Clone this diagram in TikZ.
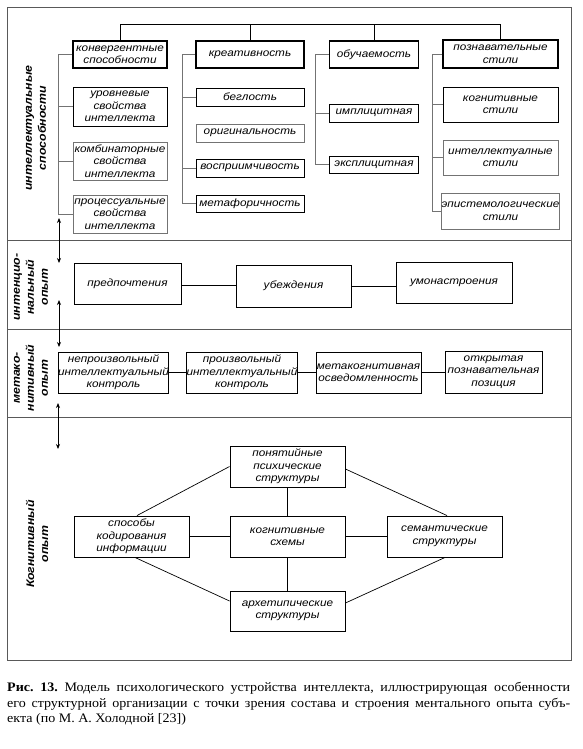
\documentclass[tikz,border=0pt]{standalone}
\usepackage{fontspec}
\setmainfont{Liberation Serif}
\newfontfamily\bxfont[FakeStretch=1.12]{Liberation Sans}
\newfontfamily\capfont[FakeStretch=1.08]{Liberation Serif}
\usetikzlibrary{arrows.meta,calc}
\begin{document}
\begin{tikzpicture}[x=1pt,y=-1pt,
  bx/.style={draw=black, line width=0.9pt, inner sep=0pt, align=center,
    font=\bxfont\itshape\fontsize{10.5}{12.5}\selectfont},
  bxthick/.style={bx, line width=1.5pt},
  bxgray/.style={bx, draw=black!55},
  wh/.style 2 args={minimum width=#1pt, minimum height=#2pt},
  lbl/.style={rotate=90, align=center, inner sep=0pt,
    font=\bxfont\bfseries\itshape\fontsize{11}{14}\selectfont},
  conn/.style={line width=0.7pt, draw=black},
  brk/.style={line width=0.9pt, draw=black!55},
  framel/.style={line width=0.9pt, draw=black!65},
  dbl/.style={line width=0.8pt, {Stealth[length=5pt,width=4pt]}-{Stealth[length=5pt,width=4pt]}},
  captxt/.style={anchor=base west, inner sep=0pt, font=\capfont\frenchspacing\fontsize{13}{15.5}\selectfont}
]
\useasboundingbox (0,0) rectangle (583,749);

% frame and dividers
\draw[framel] (7,7) rectangle (571,660);
\coordinate (dL1) at (7,240); \coordinate (dR1) at (571,240);
\coordinate (dL2) at (7,329); \coordinate (dR2) at (571,329);
\coordinate (dL3) at (7,417); \coordinate (dR3) at (571,417);
\draw[framel] (dL1) -- (dR1);
\draw[framel] (dL2) -- (dR2);
\draw[framel] (dL3) -- (dR3);

% section labels
\node[lbl] (L1) at (36,128) {интеллектуальные\\способности};
\node[lbl] (L2) at (31,287) {интенцио-\\нальный\\опыт};
\node[lbl] (L3) at (31,378) {метако-\\нитивный\\опыт};
\node[lbl] (L4) at (37,544) {Когнитивный\\опыт};

% top section boxes
\node[bxthick, wh={94}{27}] (A1) at (120,54.5) {конвергентные\\способности};
\node[bx, wh={94}{39}] (A2) at (120,106.5) {уровневые\\свойства\\интеллекта};
\node[bxgray, wh={94}{38}] (A3) at (120,161) {комбинаторные\\свойства\\интеллекта};
\node[bxgray, wh={94}{38}] (A4) at (120,214) {процессуальные\\свойства\\интеллекта};

\node[bxthick, wh={108}{27}] (B1) at (250,54.5) {креативность};
\node[bx, wh={108}{18}] (B2) at (250,97) {беглость};
\node[bxgray, wh={108}{18}] (B3) at (250,133) {оригинальность};
\node[bx, wh={108}{18}] (B4) at (250,168) {восприимчивость};
\node[bx, wh={108}{17}] (B5) at (250,203.5) {метафоричность};

\node[bxthick, wh={89}{27}] (C1) at (374,54.5) {обучаемость};
\node[bx, wh={89}{18}] (C2) at (374,113) {имплицитная};
\node[bx, wh={89}{17}] (C3) at (374,164.5) {эксплицитная};

\node[bxthick, wh={115}{28}] (D1) at (500.5,54) {познавательные\\стили};
\node[bx, wh={115}{35}] (D2) at (500.5,104.5) {когнитивные\\стили};
\node[bxgray, wh={115}{35}] (D3) at (500.5,157.5) {интеллектуалные\\стили};
\node[bxgray, wh={115}{36}] (D4) at (500.5,211) {эпистемологические\\стили};

% top connectors
\coordinate (top) at (0,24);
\draw[conn] (A1.north) -- (A1.north |- top) -- (D1.north |- top) -- (D1.north);
\draw[conn] (B1.north) -- (B1.north |- top);
\draw[conn] (C1.north) -- (C1.north |- top);

% brackets
\coordinate (bA) at (58,0);
\draw[brk] (A1.west) -- (A1.west -| bA) -- (A4.west -| bA) -- (A4.west);
\draw[brk] (A2.west) -- (A2.west -| bA);
\draw[brk] (A3.west) -- (A3.west -| bA);

\coordinate (bB) at (182,0);
\draw[brk] (B1.west) -- (B1.west -| bB) -- (B5.west -| bB) -- (B5.west);
\draw[brk] (B2.west) -- (B2.west -| bB);
\draw[brk] (B4.west) -- (B4.west -| bB);

\coordinate (bC) at (315,0);
\draw[brk] (C1.west) -- (C1.west -| bC) -- (C3.west -| bC) -- (C3.west);
\draw[brk] (C2.west) -- (C2.west -| bC);

\coordinate (bD) at (432,0);
\draw[brk] (D1.west) -- (D1.west -| bD) -- (D4.west -| bD) -- (D4.west);
\draw[brk] (D2.west) -- (D2.west -| bD);
\draw[brk] (D3.west) -- (D3.west -| bD);

% intentional experience
\node[bx, wh={107}{41}] (E1) at (127.5,284) {предпочтения};
\node[bx, wh={115}{42}] (E2) at (293.5,286) {убеждения};
\node[bx, wh={116}{41}] (E3) at (454,282.5) {умонастроения};
\coordinate (e12) at (0,285);
\coordinate (e23) at (0,286);
\draw[conn] (E1.east |- e12) -- (E2.west |- e12);
\draw[conn] (E2.east |- e23) -- (E3.west |- e23);

% metacognitive experience
\node[bx, wh={109}{41}] (F1) at (113.5,372.5) {непроизвольный\\интеллектуальный\\контроль};
\node[bx, wh={110}{41}] (F2) at (242,372.5) {произвольный\\интеллектуальный\\контроль};
\node[bx, wh={105}{41}] (F3) at (368.5,372.5) {метакогнитивная\\осведомленность};
\node[bx, wh={97}{42}] (F4) at (493.5,372) {открытая\\познавательная\\позиция};
\draw[conn] (F1.east) -- (F2.west);
\draw[conn] (F2.east) -- (F3.west);
\draw[conn] (F3.east) -- (F4.west |- F3.east);

% cognitive experience
\node[bx, wh={115}{41}] (G1) at (287.5,466.5) {понятийные\\психические\\структуры};
\node[bx, wh={115}{41}] (G2) at (131.5,536.5) {способы\\кодирования\\информации};
\node[bx, wh={115}{41}] (G3) at (287.5,536.5) {когнитивные\\схемы};
\node[bx, wh={115}{41}] (G4) at (444.5,536.5) {семантические\\структуры};
\node[bx, wh={115}{40}] (G5) at (287.5,611) {архетипические\\структуры};
\draw[conn] (G1.south) -- (G3.north);
\draw[conn] (G3.south) -- (G5.north);
\draw[conn] (G2.east) -- (G3.west);
\draw[conn] (G3.east) -- (G4.west);
\draw[conn] ($(G2.north)+(5.5,0)$) -- (G1.west);
\draw[conn] ($(G2.south)+(3.5,0)$) -- ($(G5.west)+(0,-10)$);
\draw[conn] ($(G1.east)+(0,2.5)$) -- ($(G4.north)+(2.5,0)$);
\draw[conn] ($(G4.south)+(0.5,0)$) -- ($(G5.east)+(0,-8)$);

% double arrows between sections
\coordinate (a1s) at (59,218); \coordinate (a1e) at (59,263);
\coordinate (a2s) at (59,300); \coordinate (a2e) at (59,347);
\coordinate (a3s) at (58,403); \coordinate (a3e) at (58,449);
\draw[dbl] (a1s) -- (a1e);
\draw[dbl] (a2s) -- (a2e);
\draw[dbl] (a3s) -- (a3e);

% caption
\node[captxt] (cap1) at (7,691.5) {\makebox[563pt][s]{\textbf{Рис. 13.} Модель психологического устройства интеллекта, иллюстрирующая особенности}};
\node[captxt] (cap2) at (7,707) {\makebox[563pt][s]{его структурной организации с точки зрения состава и строения ментального опыта субъ-}};
\node[captxt] (cap3) at (7,722.5) {екта (по М. А. Холодной [23])};
\end{tikzpicture}
\end{document}
